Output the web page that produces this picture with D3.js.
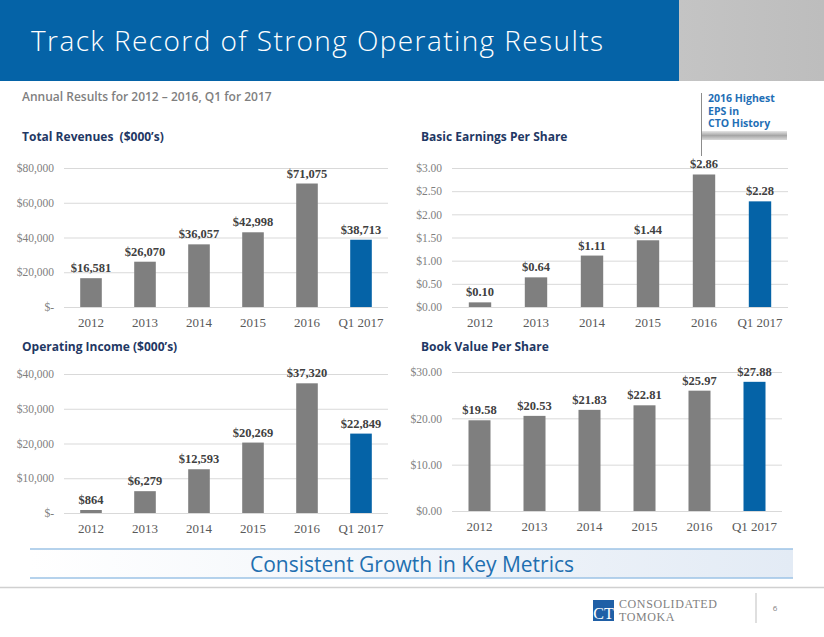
<!DOCTYPE html>
<html>
<head>
<meta charset="utf-8">
<script src="https://cdn.jsdelivr.net/npm/d3@7"></script>
<style>
  html, body { margin: 0; padding: 0; background: #fff; }
  svg { display: block; }
</style>
</head>
<body>
<svg id="slide" width="824" height="637"></svg>
<script>
// ---------- data ----------
const categories = ["2012", "2013", "2014", "2015", "2016", "Q1 2017"];
const revenues = [16581, 26070, 36057, 42998, 71075, 38713];
const eps = [0.10, 0.64, 1.11, 1.44, 2.86, 2.28];
const operatingIncome = [864, 6279, 12593, 20269, 37320, 22849];
const bookValue = [19.58, 20.53, 21.83, 22.81, 25.97, 27.88];
const revenueTicks = [0, 20000, 40000, 60000, 80000];
const epsTicks = [0, 0.5, 1.0, 1.5, 2.0, 2.5, 3.0];
const opIncomeTicks = [0, 10000, 20000, 30000, 40000];
const bookValueTicks = [0, 10, 20, 30];

const svg = d3.select("#slide");
const BLUE = "#0563a7";
const GRAY_BAR = "#7f7f7f";
const NAVY = "#1f3864";

// ---------- header ----------
svg.append("rect").attr("x", 0).attr("y", 0).attr("width", 679).attr("height", 81).attr("fill", BLUE);
const defs = svg.append("defs");
const gg = defs.append("linearGradient").attr("id", "hdrGray").attr("x1", 0).attr("x2", 1);
gg.append("stop").attr("offset", 0).attr("stop-color", "#c4c4c4");
gg.append("stop").attr("offset", 1).attr("stop-color", "#bdbdbd");
svg.append("rect").attr("x", 679).attr("y", 0).attr("width", 145).attr("height", 81).attr("fill", "url(#hdrGray)");

svg.append("text").attr("x", 31).attr("y", 51)
  .attr("fill", "#fff").attr("font-family", "'Open Sans', 'DejaVu Sans', sans-serif")
  .attr("font-weight", 300).attr("font-size", 28)
  .attr("textLength", 572).attr("lengthAdjust", "spacing")
  .text("Track Record of Strong Operating Results");

svg.append("text").attr("x", 22).attr("y", 101)
  .attr("fill", "#7f7f7f").attr("font-family", "'Open Sans', sans-serif")
  .attr("font-weight", 600).attr("font-size", 12)
  .text("Annual Results for 2012 \u2013 2016, Q1 for 2017");

// callout
svg.append("line").attr("x1", 701.5).attr("x2", 701.5).attr("y1", 93).attr("y2", 156)
  .attr("stroke", "#8c8c8c").attr("stroke-width", 1);
const cg = defs.append("linearGradient").attr("id", "calloutBar").attr("x1", 0).attr("x2", 0).attr("y1", 0).attr("y2", 1);
cg.append("stop").attr("offset", 0).attr("stop-color", "#e6e6e6");
cg.append("stop").attr("offset", 0.5).attr("stop-color", "#a6a6a6");
cg.append("stop").attr("offset", 1).attr("stop-color", "#d9d9d9");
svg.append("rect").attr("x", 702).attr("y", 131).attr("width", 85).attr("height", 9).attr("fill", "url(#calloutBar)");
["2016 Highest", "EPS in", "CTO History"].forEach((t, i) => {
  svg.append("text").attr("x", 708).attr("y", 102 + i * 12.5)
    .attr("fill", "#1f6fb6").attr("font-family", "'Open Sans', sans-serif")
    .attr("font-weight", 700).attr("font-size", 10.5).text(t);
});

// ---------- chart builder ----------
function drawChart(cfg) {
  const g = svg.append("g");
  g.append("text").attr("x", cfg.titleX).attr("y", cfg.titleY)
    .attr("fill", NAVY).attr("font-family", "'Open Sans', sans-serif")
    .attr("font-weight", 700).attr("font-size", 12).attr("xml:space", "preserve")
    .text(cfg.title);

  const x = d3.scaleBand().domain(categories).range([cfg.x0, cfg.x1]).paddingInner(0.6).paddingOuter(0.3);
  const y = d3.scaleLinear().domain([0, d3.max(cfg.ticks)]).range([cfg.yBottom, cfg.yTop]);

  const yAxis = g.append("g").attr("transform", `translate(${cfg.x0},0)`)
    .call(d3.axisLeft(y).tickValues(cfg.ticks).tickSize(-(cfg.x1 - cfg.x0)).tickPadding(10).tickFormat(cfg.tickFmt));
  yAxis.select(".domain").remove();
  yAxis.selectAll(".tick line").attr("stroke", "#d9d9d9").attr("stroke-width", 1);
  yAxis.selectAll(".tick text").attr("fill", "#7f7f7f")
    .attr("font-family", "'Liberation Serif', 'Times New Roman', serif").attr("font-size", 11.5);

  const xAxis = g.append("g").attr("transform", `translate(0,${cfg.yBottom})`)
    .call(d3.axisBottom(x).tickSize(0).tickPadding(11));
  xAxis.select(".domain").remove();
  xAxis.selectAll(".tick text").attr("fill", "#595959")
    .attr("font-family", "'Liberation Serif', 'Times New Roman', serif").attr("font-size", 13);

  const data = categories.map((c, i) => ({ c, v: cfg.values[i] }));
  g.selectAll("rect.bar").data(data).enter().append("rect").attr("class", "bar")
    .attr("x", d => x(d.c)).attr("width", x.bandwidth())
    .attr("y", d => y(d.v)).attr("height", d => cfg.yBottom - y(d.v))
    .attr("fill", d => d.c === "Q1 2017" ? BLUE : GRAY_BAR);

  g.selectAll("text.val").data(data).enter().append("text").attr("class", "val")
    .attr("x", d => x(d.c) + x.bandwidth() / 2).attr("y", d => y(d.v) - 6)
    .attr("text-anchor", "middle").attr("fill", "#404040")
    .attr("font-family", "'Liberation Serif', 'Times New Roman', serif")
    .attr("font-weight", 700).attr("font-size", 12.5)
    .text(d => cfg.valFmt(d.v));
}

const dollarsK = v => v === 0 ? "$-" : "$" + d3.format(",")(v);
const dollars2 = v => "$" + d3.format(".2f")(v);
const dollarsInt = v => "$" + d3.format(",")(v);

drawChart({ title: "Total Revenues  ($000\u2019s)", titleX: 22, titleY: 141, values: revenues, ticks: revenueTicks,
  x0: 64, x1: 388, yTop: 168, yBottom: 307, tickFmt: dollarsK, valFmt: dollarsInt });
drawChart({ title: "Basic Earnings Per Share", titleX: 421, titleY: 141, values: eps, ticks: epsTicks,
  x0: 452, x1: 788, yTop: 168, yBottom: 307, tickFmt: dollars2, valFmt: dollars2 });
drawChart({ title: "Operating Income ($000\u2019s)", titleX: 22, titleY: 351, values: operatingIncome, ticks: opIncomeTicks,
  x0: 64, x1: 388, yTop: 374, yBottom: 513, tickFmt: dollarsK, valFmt: dollarsInt });
drawChart({ title: "Book Value Per Share", titleX: 421, titleY: 351, values: bookValue, ticks: bookValueTicks,
  x0: 452, x1: 782, yTop: 372, yBottom: 511, tickFmt: dollars2, valFmt: dollars2 });

// ---------- bottom banner ----------
const bg = defs.append("linearGradient").attr("id", "banner").attr("x1", 0).attr("x2", 1);
bg.append("stop").attr("offset", 0).attr("stop-color", "#ffffff");
bg.append("stop").attr("offset", 1).attr("stop-color", "#e3ebf5");
svg.append("rect").attr("x", 30).attr("y", 549).attr("width", 763).attr("height", 29).attr("fill", "url(#banner)");
[549, 578].forEach(yy => svg.append("line").attr("x1", 30).attr("x2", 793).attr("y1", yy).attr("y2", yy)
  .attr("stroke", "#9dc3e6").attr("stroke-width", 1.5));
svg.append("text").attr("x", 412).attr("y", 572).attr("text-anchor", "middle")
  .attr("fill", "#1f6fb0").attr("font-family", "'Open Sans', sans-serif").attr("font-size", 21)
  .text("Consistent Growth in Key Metrics");
svg.append("line").attr("x1", 0).attr("x2", 824).attr("y1", 587.5).attr("y2", 587.5)
  .attr("stroke", "#d0d0d0").attr("stroke-width", 1.5);

// logo
svg.append("rect").attr("x", 593).attr("y", 600).attr("width", 21).attr("height", 21).attr("fill", "#1f5fa6");
svg.append("text").attr("x", 603.5).attr("y", 619).attr("text-anchor", "middle").attr("fill", "#fff")
  .attr("font-family", "'Liberation Serif', serif").attr("font-size", 16).text("CT");
svg.append("text").attr("x", 619).attr("y", 608).attr("fill", "#7f7f7f")
  .attr("font-family", "'Liberation Serif', serif").attr("font-size", 12).attr("letter-spacing", 0.6)
  .text("CONSOLIDATED");
svg.append("text").attr("x", 619).attr("y", 621).attr("fill", "#7f7f7f")
  .attr("font-family", "'Liberation Serif', serif").attr("font-size", 12).attr("letter-spacing", 0.6)
  .text("TOMOKA");
svg.append("line").attr("x1", 756).attr("x2", 756).attr("y1", 593).attr("y2", 623)
  .attr("stroke", "#bfbfbf").attr("stroke-width", 1);
svg.append("text").attr("x", 775).attr("y", 611).attr("text-anchor", "middle").attr("fill", "#7f7f7f")
  .attr("font-family", "'Open Sans', sans-serif").attr("font-size", 8).text("6");
</script>
</body>
</html>
